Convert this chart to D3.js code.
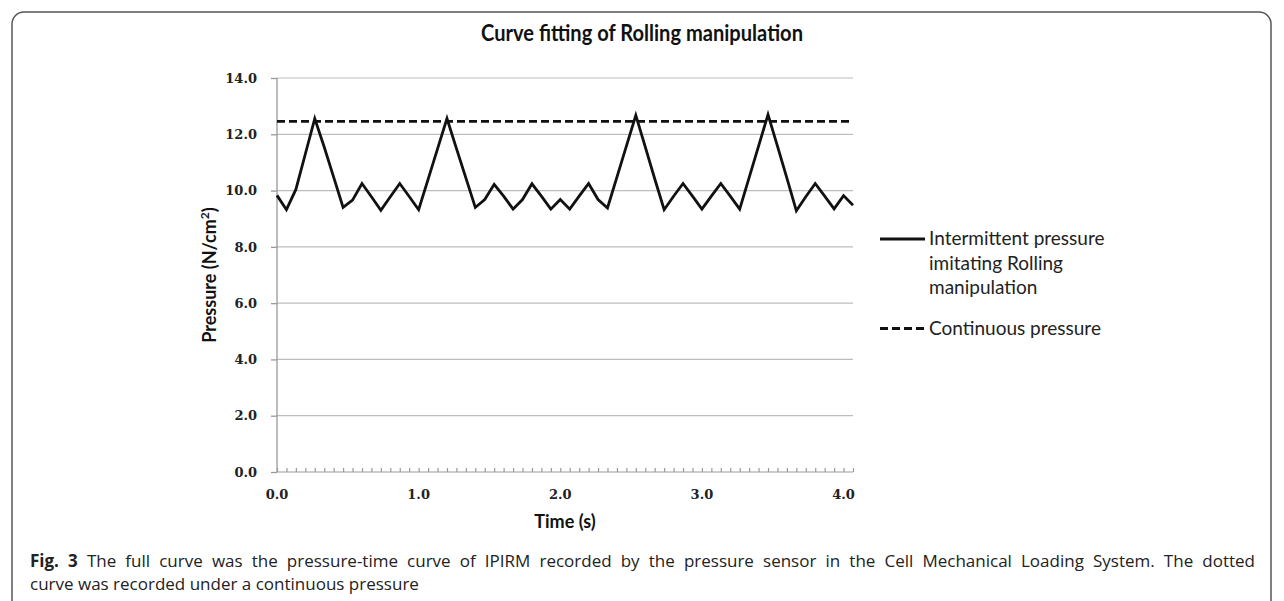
<!DOCTYPE html>
<html>
<head>
<meta charset="utf-8">
<script src="https://cdn.jsdelivr.net/npm/d3@7"></script>
<style>
  body { margin: 0; background: #fff; }
  svg { display: block; }
</style>
</head>
<body>
<div id="chart"></div>
<script>
// pressure, one value per sample (15 samples per second)
const intermittent = [
  9.83, 9.32, 10.04, 11.30, 12.56, 11.55, 10.48, 9.40, 9.66, 10.25,
  9.78, 9.30, 9.78, 10.25, 9.79, 9.32, 10.40, 11.48, 12.56, 11.50,
  10.45, 9.40, 9.68, 10.22, 9.80, 9.34, 9.68, 10.24, 9.80, 9.34,
  9.68, 9.34, 9.80, 10.25, 9.68, 9.38, 10.48, 11.58, 12.67, 11.55,
  10.42, 9.32, 9.80, 10.25, 9.80, 9.34, 9.80, 10.25, 9.80, 9.34,
  10.46, 11.58, 12.70, 11.58, 10.44, 9.28, 9.78, 10.25, 9.80, 9.35,
  9.82, 9.48
];
const continuous = 12.46;
const xTickLabels = ['0.0', '1.0', '2.0', '3.0', '4.0'];
const yTicks = [0, 2, 4, 6, 8, 10, 12, 14];
const legendItems = [
  { lines: ['Intermittent pressure', 'imitating Rolling', 'manipulation'], dash: null },
  { lines: ['Continuous pressure'], dash: '8,4' }
];

const width = 1284;
const height = 601;
const margin = { top: 78, right: 431, bottom: 129, left: 277 };
const samplesPerSecond = 15;

const svg = d3.select('#chart')
    .append('svg')
    .attr('width', width)
    .attr('height', height);

// frame round the whole figure
svg.append('rect')
    .attr('x', 12)
    .attr('y', 12)
    .attr('width', 1259)
    .attr('height', 640)
    .attr('rx', 12)
    .attr('fill', 'none')
    .attr('stroke', '#555')
    .attr('stroke-width', 1.5);

svg.append('text')
    .attr('x', 642)
    .attr('y', 41)
    .attr('text-anchor', 'middle')
    .attr('font-family', 'Lato, sans-serif')
    .attr('font-weight', 'bold')
    .attr('font-size', 22)
    .attr('textLength', 322)
    .attr('lengthAdjust', 'spacingAndGlyphs')
    .attr('fill', '#111')
    .text('Curve fitting of Rolling manipulation');

const xScale = d3.scaleLinear()
    .domain([0, intermittent.length - 1])
    .range([margin.left, width - margin.right]);

const yScale = d3.scaleLinear()
    .domain([0, 14])
    .range([height - margin.bottom, margin.top]);

// gridlines
svg.append('g')
    .selectAll('line')
    .data(yTicks.filter(d => d > 0))
    .join('line')
    .attr('x1', xScale(0))
    .attr('x2', xScale(intermittent.length - 1))
    .attr('y1', d => yScale(d))
    .attr('y2', d => yScale(d))
    .attr('stroke', '#bdbdbd')
    .attr('stroke-width', 1.2);

// y axis
const yAxis = svg.append('g')
    .attr('transform', `translate(${xScale(0)},0)`)
    .call(d3.axisLeft(yScale).tickValues(yTicks).tickFormat(d3.format('.1f')).tickSize(6).tickPadding(14));
yAxis.selectAll('path, line').attr('stroke', '#999').attr('stroke-width', 1.3);
yAxis.select('.domain').attr('d', `M0,${yScale(14)}V${yScale(0)}`);
yAxis.selectAll('text')
    .attr('font-family', '"DejaVu Serif", serif')
    .attr('font-weight', 'bold')
    .attr('font-size', 13)
    .attr('fill', '#222');

// x axis: a small tick at every sample, labels once a second
const xAxis = svg.append('g')
    .attr('transform', `translate(0,${yScale(0)})`)
    .call(d3.axisBottom(xScale).tickValues(d3.range(intermittent.length)).tickSize(-4).tickFormat(''));
xAxis.selectAll('path, line').attr('stroke', '#999').attr('stroke-width', 1.2);
xAxis.select('.domain').attr('d', `M${xScale(0)},0H${xScale(intermittent.length - 1)}`);

svg.append('g')
    .selectAll('text')
    .data(xTickLabels)
    .join('text')
    .attr('x', (d, i) => xScale(i * samplesPerSecond))
    .attr('y', yScale(0) + 27)
    .attr('text-anchor', 'middle')
    .attr('font-family', '"DejaVu Serif", serif')
    .attr('font-weight', 'bold')
    .attr('font-size', 13)
    .attr('fill', '#222')
    .text(d => d);

svg.append('text')
    .attr('x', (xScale(0) + xScale(intermittent.length - 1)) / 2)
    .attr('y', 528)
    .attr('text-anchor', 'middle')
    .attr('font-family', 'Lato, sans-serif')
    .attr('font-weight', 'bold')
    .attr('font-size', 18)
    .attr('fill', '#111')
    .text('Time (s)');

const yTitle = svg.append('text')
    .attr('transform', `translate(216,${(yScale(0) + yScale(14)) / 2}) rotate(-90)`)
    .attr('text-anchor', 'middle')
    .attr('font-family', 'Lato, sans-serif')
    .attr('font-weight', 'bold')
    .attr('font-size', 18)
    .attr('fill', '#111');
yTitle.append('tspan').text('Pressure (N/cm');
yTitle.append('tspan').attr('font-size', 12).attr('dy', -7).text('2');
yTitle.append('tspan').attr('dy', 7).text(')');

// continuous pressure
svg.append('line')
    .attr('x1', xScale(0))
    .attr('x2', xScale(intermittent.length - 1))
    .attr('y1', yScale(continuous))
    .attr('y2', yScale(continuous))
    .attr('stroke', '#111')
    .attr('stroke-width', 2.8)
    .attr('stroke-dasharray', '8,4');

// intermittent pressure
const line = d3.line()
    .x((d, i) => xScale(i))
    .y(d => yScale(d));

svg.append('path')
    .datum(intermittent)
    .attr('fill', 'none')
    .attr('stroke', '#111')
    .attr('stroke-width', 2.8)
    .attr('stroke-linejoin', 'miter')
    .attr('d', line);

// legend
let ly = 239;
legendItems.forEach(item => {
    svg.append('line')
        .attr('x1', 880)
        .attr('x2', 925)
        .attr('y1', ly)
        .attr('y2', ly)
        .attr('stroke', '#111')
        .attr('stroke-width', 2.8)
        .attr('stroke-dasharray', item.dash);
    item.lines.forEach((t, i) => {
        svg.append('text')
            .attr('x', 929)
            .attr('y', ly + 6 + i * 24.5)
            .attr('font-family', 'Lato, sans-serif')
            .attr('font-size', 19)
            .attr('fill', '#222')
            .text(t);
    });
    ly += item.lines.length * 24.5 + 16;
});

// caption, first line justified to the frame
const cap1 = svg.append('text')
    .attr('x', 30)
    .attr('y', 567)
    .attr('font-family', '"Open Sans", sans-serif')
    .attr('font-size', 17)
    .attr('fill', '#222');
cap1.append('tspan').attr('font-weight', 'bold').text('Fig. 3');
cap1.append('tspan').text(' The full curve was the pressure-time curve of IPIRM recorded by the pressure sensor in the Cell Mechanical Loading System. The dotted');
const natural = cap1.node().getComputedTextLength();
const gaps = cap1.text().split(' ').length - 1;
cap1.attr('word-spacing', Math.max(0, (1255 - 30 - natural) / gaps));

svg.append('text')
    .attr('x', 30)
    .attr('y', 590)
    .attr('font-family', '"Open Sans", sans-serif')
    .attr('font-size', 17)
    .attr('fill', '#222')
    .text('curve was recorded under a continuous pressure');
</script>
</body>
</html>
